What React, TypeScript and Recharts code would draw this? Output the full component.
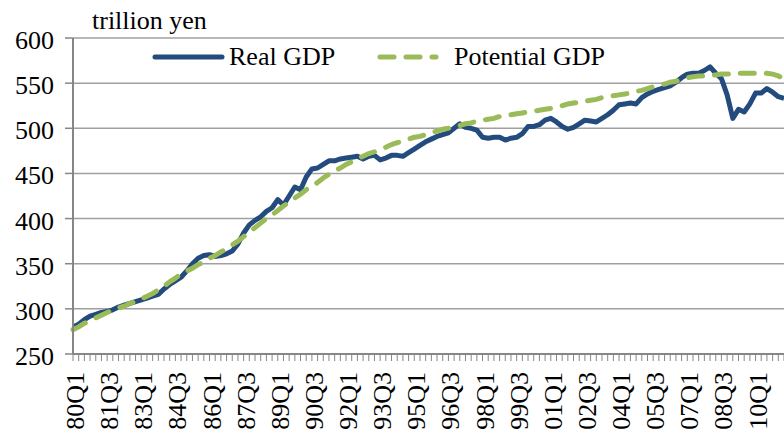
import React from 'react';
import { LineChart, Line, XAxis, YAxis, CartesianGrid, Legend } from 'recharts';

const years = ['80','81','82','83','84','85','86','87','88','89','90','91','92','93','94','95','96','97','98','99','00','01','02','03','04','05','06','07','08','09','10','11'];
const quarters = ['Q1','Q2','Q3','Q4'];
const categories: string[] = [];
years.forEach((y) => quarters.forEach((q) => categories.push(y + q)));
categories.splice(126);

const shownTickLabels = ['80Q1','81Q3','83Q1','84Q3','86Q1','87Q3','89Q1','90Q3','92Q1','93Q3','95Q1','96Q3','98Q1','99Q3','01Q1','02Q3','04Q1','05Q3','07Q1','08Q3','10Q1'];

const yTicks = [250, 300, 350, 400, 450, 500, 550, 600];

const realGDP = [
  280, 283, 288, 292, 294, 296, 297, 299, 302, 304, 306, 308, 310, 312, 314, 316,
  322, 327, 331, 335, 342, 350, 356, 359, 360, 358, 359, 361, 364, 372, 384, 393,
  398, 402, 408, 412, 421, 415, 425, 435, 432, 446, 455, 456, 460, 464, 464, 466,
  467, 468, 469, 466, 469, 470, 465, 467, 470, 470, 469, 473, 477, 481, 485, 488,
  491, 493, 495, 500, 505, 501, 500, 498, 490, 489, 490, 490, 487, 489, 490, 494,
  502, 502, 504, 509, 511, 507, 502, 499, 501, 505, 509, 508, 507, 511, 515, 520,
  526, 527, 528, 527, 534, 538, 541, 543, 545, 547, 551, 556, 560, 561, 561, 564,
  568, 561, 555, 537, 511, 521, 518, 527, 539, 539, 544, 540, 535, 533,
];

const potentialGDP = [
  277, 280, 284, 287, 290, 293, 296, 298, 301, 303, 306, 308, 311, 314, 317, 321,
  325, 330, 334, 339, 342, 345, 349, 352, 356, 359, 363, 367, 371, 375, 380, 385,
  390, 395, 400, 404, 409, 414, 418, 423, 427, 432, 436, 440, 445, 449, 453, 456,
  460, 463, 466, 469, 472, 474, 477, 479, 482, 484, 486, 488, 490, 491, 493, 495,
  497, 499, 500, 502, 503, 505, 506, 508, 509, 510, 511, 513, 514, 515, 516, 517,
  518, 519, 520, 521, 522, 524, 525, 527, 528, 529, 530, 531, 532, 534, 535, 536,
  537, 538, 539, 541, 542, 544, 546, 548, 549, 551, 552, 554, 556, 557, 558, 558,
  559, 559, 560, 560, 560, 561, 561, 561, 561, 561, 561, 560, 558, 555,
];

const data = categories.map((c, i) => ({ q: c, real: realGDP[i], potential: potentialGDP[i] }));

const FONT = '"Liberation Serif", "Times New Roman", serif';
const REAL_COLOR = '#234B7E';
const POT_COLOR = '#9BBB59';
const AXIS_COLOR = '#868686';
const GRID_COLOR = '#A0A0A0';

const YTick = (props: any) => {
  const { x, y, payload } = props;
  return (
    <text x={x} y={y} dy={11} textAnchor="end" fontFamily={FONT} fontSize={26} fill="#000">
      {payload.value}
    </text>
  );
};

const XTick = (props: any) => {
  const { x, y, payload } = props;
  if (!shownTickLabels.includes(payload.value)) return <g />;
  return (
    <text
      transform={`translate(${x},${y}) rotate(-90)`}
      dy={11}
      textAnchor="end"
      fontFamily={FONT}
      fontSize={26}
      fill="#000"
    >
      {payload.value}
    </text>
  );
};

const renderLegend = (props: any) => {
  const payload = props.payload || [];
  const pos: Record<string, { x1: number; x2: number; tx: number }> = {
    real: { x1: 155, x2: 222, tx: 229 },
    potential: { x1: 380, x2: 436, tx: 454 },
  };
  return (
    <div style={{ position: 'relative', width: 784, height: 0 }}>
      <svg width={784} height={80} style={{ position: 'absolute', left: 0, top: 0, overflow: 'visible' }}>
        {payload.map((p: any) => {
          const k = p.dataKey as string;
          const ps = pos[k];
          if (!ps) return null;
          const dashed = k === 'potential';
          return (
            <g key={k}>
              <line
                x1={ps.x1}
                x2={ps.x2}
                y1={57}
                y2={57}
                stroke={p.color}
                strokeWidth={5}
                strokeLinecap="round"
                strokeDasharray={dashed ? '14 12' : undefined}
              />
              <text x={ps.tx} y={65} fontFamily={FONT} fontSize={26} fill="#000">
                {p.value}
              </text>
            </g>
          );
        })}
      </svg>
    </div>
  );
};

export default function App() {
  return (
    <div style={{ position: 'absolute', left: 0, top: 0 }}>
      <LineChart width={784} height={430} data={data} margin={{ top: 38, right: 0, bottom: 0, left: 0 }}>
        <CartesianGrid vertical={false} stroke={GRID_COLOR} strokeWidth={1.5} />
        <XAxis
          dataKey="q"
          interval={0}
          tick={<XTick />}
          tickSize={7}
          tickMargin={11}
          height={76}
          axisLine={{ stroke: AXIS_COLOR, strokeWidth: 2 }}
          tickLine={{ stroke: AXIS_COLOR, strokeWidth: 1 }}
        />
        <YAxis
          domain={[250, 600]}
          ticks={yTicks}
          width={73}
          tickSize={8}
          tickMargin={11}
          tick={<YTick />}
          axisLine={{ stroke: AXIS_COLOR, strokeWidth: 2 }}
          tickLine={{ stroke: AXIS_COLOR, strokeWidth: 1.5 }}
          label={{
            content: () => (
              <text x={92} y={29} fontFamily={FONT} fontSize={26} fill="#000">
                trillion yen
              </text>
            ),
          }}
        />
        <Legend
          layout="horizontal"
          verticalAlign="middle"
          align="center"
          wrapperStyle={{ left: 0, top: 0, width: 784 }}
          content={renderLegend}
        />
        <Line
          type="linear"
          dataKey="real"
          name="Real GDP"
          stroke={REAL_COLOR}
          strokeWidth={5}
          dot={false}
          strokeLinejoin="round"
          isAnimationActive={false}
        />
        <Line
          type="linear"
          dataKey="potential"
          name="Potential GDP"
          stroke={POT_COLOR}
          strokeWidth={5}
          strokeDasharray="14 12"
          strokeLinecap="round"
          dot={false}
          isAnimationActive={false}
        />
      </LineChart>
    </div>
  );
}
